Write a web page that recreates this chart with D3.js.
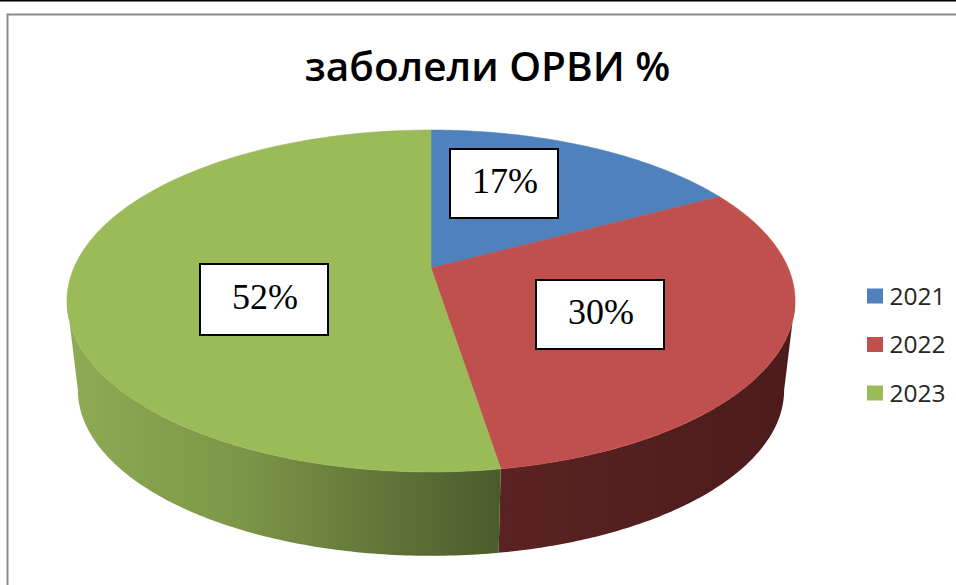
<!DOCTYPE html>
<html>
<head>
<meta charset="utf-8">
<script src="https://cdn.jsdelivr.net/npm/d3@7"></script>
<style>
html, body { margin: 0; padding: 0; background: #fff; }
svg { display: block; }
</style>
</head>
<body>
<div class="chart"></div>
<script>
var titleText = "заболели ОРВИ %";
var categories = ["2021", "2022", "2023"];
var values = [17, 30, 52];
var labels = ["17%", "30%", "52%"];
var colors = ["#4f81bd", "#c0504d", "#9bbb59"];

var width = 956, height = 585;

var svg = d3.select(".chart").append("svg")
	.attr("width", width)
	.attr("height", height);

// page line and chart frame
svg.append("rect").attr("x", 0).attr("y", 0).attr("width", width).attr("height", 1.5).style("fill", "#000");
svg.append("path")
	.attr("d", "M7.5,585V14.5H956")
	.style("fill", "none")
	.style("stroke", "#8c8c8c")
	.style("stroke-width", 2);

svg.append("text")
	.attr("x", 487.5)
	.attr("y", 80.5)
	.attr("text-anchor", "middle")
	.style("font-family", "'Open Sans'")
	.style("font-weight", 600)
	.style("font-size", "40.5px")
	.style("fill", "#000")
	.text(titleText);

// perspective: the pie circle (unit coords) seen from above, apex is off the ellipse centre
var apex = {x: 431, y: 268};
var k = -0.193, scaleX = 357.2, scaleY = 164.6;
var depth = 90, shrink = 0.97;

function topPoint(a) {
	var X = Math.sin(a), Y = -Math.cos(a), w = 1 + k * Y;
	return [apex.x + scaleX * X / w, apex.y + scaleY * Y / w];
}
function bottomPoint(a) {
	var p = topPoint(a);
	return [apex.x + (p[0] - apex.x) * shrink, apex.y + depth + (p[1] - apex.y) * shrink];
}

var arcs = d3.pie().sort(null)(values);
var line = d3.line();

function arcPoints(fn, a0, a1) {
	return d3.range(0, 121).map(function(i) { return fn(a0 + (a1 - a0) * i / 120); });
}

var defs = svg.append("defs");
var sideStops = [
	[{o: 0, c: "#8fab54"}, {o: 0.4, c: "#7c9647"}, {o: 1, c: "#4a5b2b"}],
	[{o: 0, c: "#5a2321"}, {o: 1, c: "#4b1b1b"}]
];
sideStops.forEach(function(stops, i) {
	var g = defs.append("linearGradient")
		.attr("id", "side" + i)
		.attr("gradientUnits", "userSpaceOnUse")
		.attr("x1", i == 0 ? 67 : 500).attr("x2", i == 0 ? 500 : 795)
		.attr("y1", 0).attr("y2", 0);
	stops.forEach(function(s) {
		g.append("stop").attr("offset", s.o).attr("stop-color", s.c);
	});
});

// visible rim: front half only, from the right extreme round to the left extreme
var rimStart = Math.PI / 2 + 0.194, rimEnd = Math.PI * 1.5 - 0.194;
var gSides = svg.append("g");
[arcs[1], arcs[2]].forEach(function(d, i) {
	var a0 = Math.max(d.startAngle, rimStart), a1 = Math.min(d.endAngle, rimEnd);
	var pts = arcPoints(topPoint, a0, a1).concat(arcPoints(bottomPoint, a1, a0));
	gSides.append("path")
		.attr("d", line(pts) + "Z")
		.style("fill", "url(#side" + (i == 1 ? 0 : 1) + ")");
});

svg.append("g").selectAll("path")
	.data(arcs)
	.enter().append("path")
	.attr("d", function(d) {
		return line([[apex.x, apex.y]].concat(arcPoints(topPoint, d.startAngle, d.endAngle))) + "Z";
	})
	.style("fill", function(d, i) { return colors[i]; })
	.style("stroke", function(d, i) { return colors[i]; })
	.style("stroke-width", 0.6);

// white label boxes
var labelBoxes = [[504, 183.5, 108, 69], [600, 314.5, 128, 69], [264, 299.5, 128, 71]];
var gLabels = svg.append("g").selectAll("g")
	.data(labels)
	.enter().append("g")
	.attr("transform", function(d, i) { return "translate(" + labelBoxes[i][0] + "," + labelBoxes[i][1] + ")"; });
gLabels.append("rect")
	.attr("x", function(d, i) { return -labelBoxes[i][2] / 2; })
	.attr("y", function(d, i) { return -labelBoxes[i][3] / 2; })
	.attr("width", function(d, i) { return labelBoxes[i][2]; })
	.attr("height", function(d, i) { return labelBoxes[i][3]; })
	.style("fill", "#fff")
	.style("stroke", "#000")
	.style("stroke-width", 2);
gLabels.append("text")
	.attr("text-anchor", "middle")
	.attr("x", 1)
	.attr("y", 9.5)
	.style("font-family", "'Liberation Serif'")
	.style("font-size", "36px")
	.style("fill", "#000")
	.text(function(d) { return d; });

// legend
var legendY = d3.scalePoint().domain(categories).range([296, 393]);
var legend = svg.append("g").selectAll("g")
	.data(categories)
	.enter().append("g")
	.attr("transform", function(d) { return "translate(867," + legendY(d) + ")"; });
legend.append("rect")
	.attr("y", -7.5)
	.attr("width", 16)
	.attr("height", 15)
	.style("fill", function(d, i) { return colors[i]; });
legend.append("text")
	.attr("x", 22.5)
	.attr("y", 8.5)
	.style("font-family", "'Open Sans'")
	.style("font-size", "24.5px")
	.style("fill", "#262626")
	.text(function(d) { return d; });
</script>
</body>
</html>
